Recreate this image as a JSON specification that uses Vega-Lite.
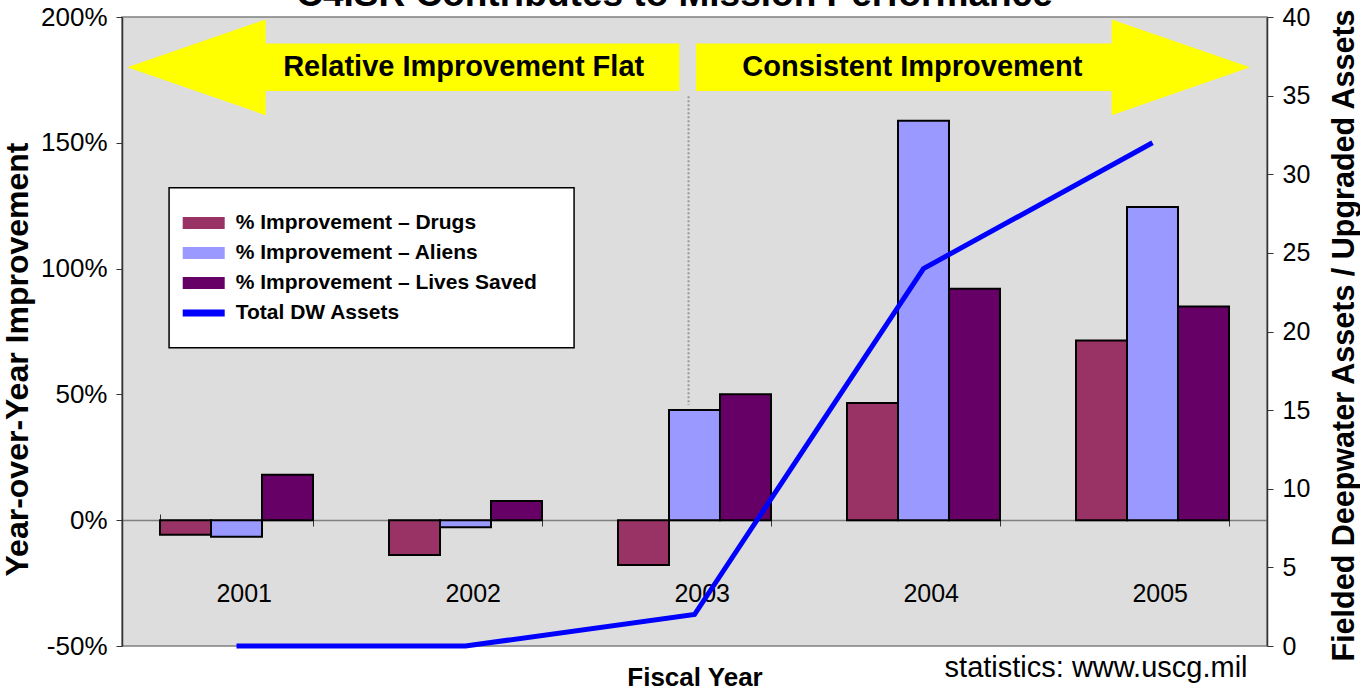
{
  "$schema": "https://vega.github.io/schema/vega-lite/v6.json",
  "width": 1145,
  "height": 629,
  "autosize": {"type": "none"},
  "padding": {"left": 122, "top": 17, "right": 93, "bottom": 47},
  "background": "white",
  "config": {
    "font": "Liberation Sans",
    "view": {"fill": "#DDDDDD", "stroke": "#808080", "strokeWidth": 1.5},
    "axis": {"grid": false, "labelColor": "black", "titleColor": "black", "labelFont": "Liberation Sans", "titleFont": "Liberation Sans"}
  },
  "datasets": {
    "bars": [
      {"year": "2001", "series": "% Improvement – Drugs", "value": -5.8},
      {"year": "2001", "series": "% Improvement – Aliens", "value": -6.6},
      {"year": "2001", "series": "% Improvement – Lives Saved", "value": 18.1},
      {"year": "2002", "series": "% Improvement – Drugs", "value": -13.8},
      {"year": "2002", "series": "% Improvement – Aliens", "value": -2.8},
      {"year": "2002", "series": "% Improvement – Lives Saved", "value": 7.6},
      {"year": "2003", "series": "% Improvement – Drugs", "value": -17.8},
      {"year": "2003", "series": "% Improvement – Aliens", "value": 43.8},
      {"year": "2003", "series": "% Improvement – Lives Saved", "value": 50.1},
      {"year": "2004", "series": "% Improvement – Drugs", "value": 46.6},
      {"year": "2004", "series": "% Improvement – Aliens", "value": 158.8},
      {"year": "2004", "series": "% Improvement – Lives Saved", "value": 92.0},
      {"year": "2005", "series": "% Improvement – Drugs", "value": 71.4},
      {"year": "2005", "series": "% Improvement – Aliens", "value": 124.5},
      {"year": "2005", "series": "% Improvement – Lives Saved", "value": 84.9}
    ],
    "assets": [
      {"year": "2001", "assets": 0},
      {"year": "2002", "assets": 0},
      {"year": "2003", "assets": 2},
      {"year": "2004", "assets": 24},
      {"year": "2005", "assets": 32}
    ],
    "notes": [
      {"label": "note"}
    ]
  },
  "resolve": {"scale": {"y": "independent"}, "axis": {"x": "independent"}},
  "layer": [
    {
      "layer": [
        {
          "data": {"name": "notes"},
          "mark": {"type": "text", "text": "C4ISR Contributes to Mission Performance", "font": "Liberation Sans", "fontSize": 37, "fontWeight": "bold", "color": "black", "align": "center", "baseline": "alphabetic"},
          "encoding": {"x": {"datum": "2003", "bandPosition": 0.369}, "y": {"datum": 204.2}}
        },
        {
          "data": {"name": "notes"},
          "mark": {"type": "point", "shape": "M-1,-0.395L1,-0.395L1,0.395L-1,0.395Z", "size": 164025, "filled": true, "fill": "white", "stroke": "black", "strokeWidth": 1.5, "opacity": 1},
          "encoding": {"x": {"datum": "2002", "bandPosition": -0.114}, "y": {"datum": 100.3}}
        },
        {
          "data": {"name": "notes"},
          "mark": {"type": "point", "shape": "M-1,0L-0.4986,-0.1734L-0.4986,-0.0859L1,-0.0859L1,0.0859L-0.4986,0.0859L-0.4986,0.1734Z", "size": 304704, "filled": true, "fill": "#FFFF00", "strokeWidth": 0, "opacity": 1},
          "encoding": {"x": {"datum": "2002", "bandPosition": 0.0935}, "y": {"datum": 180}}
        },
        {
          "data": {"name": "notes"},
          "mark": {"type": "point", "shape": "M1,0L0.5007,-0.1727L0.5007,-0.0856L-1,-0.0856L-1,0.0856L0.5007,0.0856L0.5007,0.1727Z", "size": 306916, "filled": true, "fill": "#FFFF00", "strokeWidth": 0, "opacity": 1},
          "encoding": {"x": {"datum": "2004", "bandPosition": 0.8235}, "y": {"datum": 180}}
        },
        {
          "data": {"name": "notes"},
          "mark": {"type": "text", "text": "Relative Improvement Flat", "font": "Liberation Sans", "fontSize": 29, "fontWeight": "bold", "color": "black", "align": "center", "baseline": "middle"},
          "encoding": {"x": {"datum": "2002", "bandPosition": 0.488}, "y": {"datum": 180}}
        },
        {
          "data": {"name": "notes"},
          "mark": {"type": "text", "text": "Consistent Improvement", "font": "Liberation Sans", "fontSize": 29, "fontWeight": "bold", "color": "black", "align": "center", "baseline": "middle"},
          "encoding": {"x": {"datum": "2004", "bandPosition": 0.427}, "y": {"datum": 180}}
        },
        {
          "data": {"name": "notes"},
          "mark": {"type": "rule", "strokeDash": [2, 2], "color": "#999999", "strokeWidth": 2},
          "encoding": {"x": {"datum": "2003", "bandPosition": 0.461}, "y": {"datum": 168.5}, "y2": {"datum": 45.8}}
        },
        {
          "data": {"name": "notes"},
          "mark": {"type": "text", "text": "statistics: www.uscg.mil", "font": "Liberation Sans", "fontSize": 29, "color": "black", "align": "center", "baseline": "alphabetic"},
          "encoding": {"x": {"datum": "2005", "bandPosition": 0.131}, "y": {"datum": -62.4}}
        },
        {
          "data": {"name": "bars"},
          "mark": {"type": "bar", "stroke": "black", "strokeWidth": 2},
          "encoding": {
            "x": {
              "field": "year", "type": "nominal",
              "scale": {"paddingInner": 0.332, "paddingOuter": 0.166},
              "axis": {
                "orient": "bottom", "offset": -126, "domainColor": "#808080", "domainWidth": 1.5,
                "tickBand": "extent", "tickSize": 6, "tickColor": "#333333",
                "labelFontSize": 25, "labelPadding": 67, "labelOffset": 35, "labelAngle": 0,
                "title": "Fiscal Year", "titleFontSize": 26, "titleFontWeight": "bold", "titleY": 165, "titleBaseline": "alphabetic"
              }
            },
            "xOffset": {"field": "series", "type": "nominal", "scale": {"domain": ["% Improvement – Drugs", "% Improvement – Aliens", "% Improvement – Lives Saved"], "paddingInner": 0, "paddingOuter": 0}},
            "y": {
              "field": "value", "type": "quantitative", "stack": null,
              "scale": {"domain": [-50, 200], "nice": false, "zero": false},
              "axis": {
                "orient": "left", "values": [-50, 0, 50, 100, 150, 200], "labelExpr": "datum.value + '%'",
                "labelFontSize": 26, "labelPadding": 9, "tickSize": 6, "tickColor": "#333333",
                "domainColor": "#333333", "domainWidth": 1.5,
                "title": "Year-over-Year Improvement", "titleFontSize": 32, "titleFontWeight": "bold",
                "titleX": -95, "titleY": 342, "titleBaseline": "alphabetic", "titleAlign": "center", "titleAngle": 270
              }
            },
            "color": {
              "field": "series", "type": "nominal",
              "scale": {
                "domain": ["% Improvement – Drugs", "% Improvement – Aliens", "% Improvement – Lives Saved", "Total DW Assets"],
                "range": ["#993366", "#9999FF", "#660066", "#0000FF"]
              },
              "legend": {
                "title": null, "orient": "none", "legendX": 70.7, "legendY": 195, "direction": "vertical",
                "padding": 0, "rowPadding": 9,
                "labelFont": "Liberation Sans", "labelFontSize": 21, "labelFontWeight": "bold", "labelColor": "black",
                "labelOffset": 21, "labelLimit": 600, "symbolSize": 400, "symbolStrokeWidth": 2, "symbolOpacity": 1,
                "symbolType": {"expr": "datum.value === 'Total DW Assets' ? 'M-2,-0.25L2,-0.25L2,0.25L-2,0.25Z' : 'M-2,-0.5L2,-0.5L2,0.5L-2,0.5Z'"},
                "encode": {
                  "symbols": {
                    "stroke": {"condition": {"test": "datum.value === 'Total DW Assets'", "value": "transparent"}, "value": "black"},
                    "strokeWidth": {"value": 2}
                  }
                }
              }
            }
          }
        }
      ]
    },
    {
      "data": {"name": "assets"},
      "mark": {"type": "line", "strokeWidth": 5, "strokeCap": "butt"},
      "encoding": {
        "x": {
          "field": "year", "type": "nominal",
          "axis": {"orient": "top", "offset": -503, "labels": false, "domain": false, "tickBand": "extent", "tickSize": 6, "tickColor": "#333333", "title": null}
        },
        "y": {
          "field": "assets", "type": "quantitative",
          "scale": {"domain": [0, 40], "nice": false},
          "axis": {
            "orient": "right", "values": [0, 5, 10, 15, 20, 25, 30, 35, 40],
            "labelFontSize": 25, "labelPadding": 9, "tickSize": 6, "tickColor": "#333333",
            "domainColor": "#333333", "domainWidth": 1.5,
            "title": "Fielded Deepwater Assets / Upgraded Assets", "titleFontSize": 30.5, "titleFontWeight": "bold",
            "titleAngle": 270, "titleX": 86, "titleY": 318, "titleBaseline": "alphabetic", "titleAlign": "center"
          }
        },
        "color": {"datum": "Total DW Assets"}
      }
    }
  ]
}
